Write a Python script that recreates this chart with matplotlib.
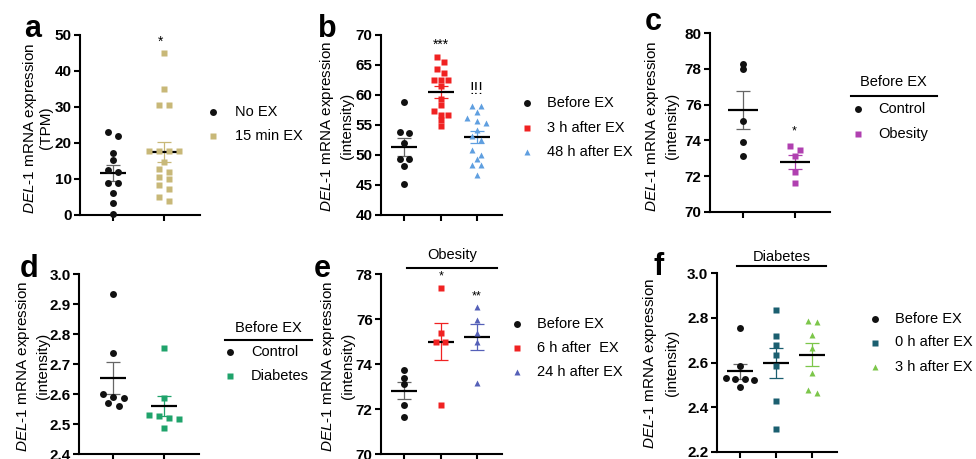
import matplotlib.pyplot as plt
import numpy as np
from matplotlib.lines import Line2D

plt.rcParams['font.family'] = ['Liberation Sans', 'DejaVu Sans']
plt.rcParams['mathtext.fontset'] = 'custom'
plt.rcParams['mathtext.rm'] = 'Liberation Sans'
plt.rcParams['mathtext.it'] = 'Liberation Sans:italic'

W, H = 976, 459

# ---- data ----
a_labels = ['No EX', '15 min EX']
a_no_ex = [23.0, 22.0, 17.1, 15.3, 12.5, 12.0, 8.8, 8.8, 6.2, 3.4, 0.2]
a_15min = [44.9, 34.9, 30.6, 30.6, 17.8, 17.8, 17.8, 17.8, 14.6, 12.8, 12.0,
           10.5, 10.0, 8.3, 7.3, 5.0, 4.0]

b_labels = ['Before EX', '3 h after EX', '48 h after EX']
b_before = [58.8, 53.6, 53.9, 52.0, 49.3, 49.3, 48.1, 45.1]
b_3h = [66.3, 65.5, 64.3, 63.6, 62.5, 62.5, 62.5, 61.5, 59.3, 58.3, 57.3,
        56.7, 56.7, 55.8, 54.8]
b_48h = [58.1, 58.2, 57.2, 56.1, 55.3, 55.6, 54.2, 53.2, 52.5, 50.8, 49.4,
         50.0, 48.4, 48.4, 46.7]

c_labels = ['Control', 'Obesity']
c_control = [78.0, 78.3, 75.1, 73.9, 73.1]
c_obesity = [73.7, 73.45, 73.1, 72.2, 71.6]

d_labels = ['Control', 'Diabetes']
d_control = [2.934, 2.738, 2.599, 2.586, 2.591, 2.569, 2.560]
d_diabetes = [2.753, 2.587, 2.527, 2.516, 2.521, 2.530, 2.486]

e_labels = ['Before EX', '6 h after  EX', '24 h after EX']
e_before = [73.74, 73.4, 73.1, 72.18, 71.66]
e_6h = [77.4, 75.4, 75.0, 75.0, 72.18]
e_24h = [76.56, 75.97, 75.4, 75.0, 73.17]

f_labels = ['Before EX', '0 h after EX', '3 h after EX']
f_before = [2.755, 2.585, 2.53, 2.525, 2.525, 2.52, 2.488]
f_0h = [2.837, 2.718, 2.678, 2.633, 2.585, 2.428, 2.30]
f_3h = [2.785, 2.782, 2.725, 2.666, 2.551, 2.461, 2.476]

fig = plt.figure(figsize=(W / 100, H / 100), dpi=100)


def fy(y):
    return 1 - y / H


def add_panel(left, top, right, bottom, first_px, last_px, n, ylim, yticks, fmt):
    ax = fig.add_axes([left / W, 1 - bottom / H, (right - left) / W, (bottom - top) / H])
    step = (last_px - first_px) / (n - 1)
    ax.set_xlim((left - first_px) / step, (right - first_px) / step)
    ax.set_ylim(*ylim)
    ax.set_xticks(range(n))
    ax.set_xticklabels([])
    ax.set_yticks(yticks)
    ax.set_yticklabels([fmt.format(t) for t in yticks], fontweight='bold', fontsize=11)
    for s in ['top', 'right']:
        ax.spines[s].set_visible(False)
    for s in ['left', 'bottom']:
        ax.spines[s].set_linewidth(1.5)
    ax.tick_params(width=1.5, length=4, pad=2)
    ax.patch.set_alpha(0)
    px_y = (bottom - top) / (ylim[1] - ylim[0])
    return ax, step, px_y


def swarm(vals, center, px_y, dx, thr=5.0):
    vals = np.asarray(vals)
    order = np.argsort(-vals, kind='stable')
    rows = []
    for i in order:
        if rows and (vals[rows[-1][0]] - vals[i]) * px_y < thr:
            rows[-1].append(i)
        else:
            rows.append([i])
    xs = np.zeros(len(vals))
    for row in rows:
        n = len(row)
        for k, i in enumerate(row):
            xs[i] = center + (k - (n - 1) / 2) * dx
    return xs


def draw_group(panel, k, vals, color, marker, ms, err_color, step=9.5, mean_w=13, cap_w=7):
    ax, px_x, px_y = panel
    vals = np.asarray(vals)
    xs = swarm(vals, k, px_y, step / px_x)
    m = vals.mean()
    se = vals.std(ddof=1) / np.sqrt(len(vals))
    ax.plot([k - mean_w / px_x, k + mean_w / px_x], [m, m], color='black', lw=1.6,
            zorder=2, solid_capstyle='butt')
    ax.errorbar(k, m, yerr=se, color=err_color, lw=0.9, capsize=cap_w * 0.72,
                capthick=0.9, zorder=1)
    ax.plot(xs, vals, linestyle='none', marker=marker, color=color, ms=ms,
            mec='none', zorder=3, clip_on=False)


def ylabel(x1, x2, yc, second):
    fig.text(x1 / W, fy(yc), r'$\mathit{DEL}$-$\mathit{1}$ mRNA expression', rotation=90,
             ha='center', va='center', fontsize=11)
    fig.text(x2 / W, fy(yc), second, rotation=90, ha='center', va='center', fontsize=11)


def legend_rows(entries, xm, xt, ys):
    for (label, color, marker, ms), y in zip(entries, ys):
        fig.add_artist(Line2D([xm / W], [fy(y)], marker=marker, color=color, ms=ms,
                              mec='none', linestyle='none', transform=fig.transFigure))
        fig.text(xt / W, fy(y), label, fontsize=10.5, va='center', ha='left')


def hline(x0, x1, y):
    fig.add_artist(Line2D([x0 / W, x1 / W], [fy(y), fy(y)], color='black', lw=1.5,
                          transform=fig.transFigure))


def letter(x, y, s):
    fig.text(x / W, fy(y), s, fontsize=22, fontweight='bold', ha='left', va='baseline')


def note(x, y, s, size=9):
    fig.text(x / W, fy(y), s, fontsize=size, ha='center', va='center')


black = '#111111'
grey = '#666666'
tan = '#c8b878'
red = '#f02222'
lblue = '#5f9fe0'
magenta = '#b040b0'
green = '#1fa36b'
indigo = '#5560b8'
teal = '#1b5f70'
lgreen = '#7cc64a'

# ---- a ----
pa = add_panel(80, 35, 200, 215, 113, 164, 2, (0, 50), [0, 10, 20, 30, 40, 50], '{:.0f}')
draw_group(pa, 0, a_no_ex, black, 'o', 5, grey, step=10.5)
draw_group(pa, 1, a_15min, tan, 's', 4.6, tan, step=10)
ylabel(30, 46, 128, '(TPM)')
legend_rows([(a_labels[0], black, 'o', 5), (a_labels[1], tan, 's', 4.6)], 213, 235, [112, 136])
note(161, 42, '*', 10)
letter(24, 37, 'a')

# ---- b ----
pb = add_panel(381, 35, 502, 215, 404.3, 476.7, 3, (40, 70), [40, 45, 50, 55, 60, 65, 70], '{:.0f}')
draw_group(pb, 0, b_before, black, 'o', 5, grey)
draw_group(pb, 1, b_3h, red, 's', 4.6, red, step=7)
draw_group(pb, 2, b_48h, lblue, '^', 5, lblue)
ylabel(327, 347, 126, '(intensity)')
legend_rows([(b_labels[0], black, 'o', 5), (b_labels[1], red, 's', 4.6),
             (b_labels[2], lblue, '^', 5)], 527, 547, [103, 127.5, 152])
note(440.7, 45, '***', 10)
note(476.7, 90, '!!!', 12)
letter(318, 37, 'b')

# ---- c ----
pc = add_panel(710, 33.3, 830, 211.7, 743.3, 795, 2, (70, 80), [70, 72, 74, 76, 78, 80], '{:.0f}')
draw_group(pc, 0, c_control, black, 'o', 5, grey, step=10, mean_w=15)
draw_group(pc, 1, c_obesity, magenta, 's', 4.6, magenta, step=10, mean_w=15)
ylabel(652, 672, 126, '(intensity)')
fig.text(893 / W, fy(82), 'Before EX', fontsize=10.5, ha='center', va='center')
hline(851, 937, 96)
legend_rows([(c_labels[0], black, 'o', 5), (c_labels[1], magenta, 's', 4.6)], 858, 878, [109, 134])
note(794, 131, '*', 9)
letter(645, 30, 'c')

# ---- d ----
pd_ = add_panel(79, 274.3, 199, 454, 113.3, 164.3, 2, (2.4, 3.0),
                [2.4, 2.5, 2.6, 2.7, 2.8, 2.9, 3.0], '{:.1f}')
draw_group(pd_, 0, d_control, black, 'o', 5, grey, step=10.5)
draw_group(pd_, 1, d_diabetes, green, 's', 4.6, green, step=10)
ylabel(23, 43, 366, '(intensity)')
fig.text(268 / W, fy(328), 'Before EX', fontsize=10.5, ha='center', va='center')
hline(225, 312, 339.5)
legend_rows([(d_labels[0], black, 'o', 5), (d_labels[1], green, 's', 4.6)], 230, 251, [352, 376])
letter(20, 277, 'd')

# ---- e ----
pe = add_panel(381, 274.3, 502, 454, 404.3, 476.7, 3, (70, 78), [70, 72, 74, 76, 78], '{:.0f}')
draw_group(pe, 0, e_before, black, 'o', 5, grey)
draw_group(pe, 1, e_6h, red, 's', 4.6, red)
draw_group(pe, 2, e_24h, indigo, '^', 5, indigo)
ylabel(328, 348, 366, '(intensity)')
fig.text(452 / W, fy(255), 'Obesity', fontsize=10.5, ha='center', va='center')
hline(407, 497, 267.5)
legend_rows([(e_labels[0], black, 'o', 5), (e_labels[1], red, 's', 4.6),
             (e_labels[2], indigo, '^', 5)], 517, 537, [323.5, 347.5, 371.5])
note(440.7, 276, '*', 9)
note(476.7, 296, '**', 9)
letter(314, 277, 'e')

# ---- f ----
pf = add_panel(716.7, 273.3, 836.7, 451.7, 740, 812.3, 3, (2.2, 3.0),
               [2.2, 2.4, 2.6, 2.8, 3.0], '{:.1f}')
draw_group(pf, 0, f_before, black, 'o', 5, grey)
draw_group(pf, 1, f_0h, teal, 's', 4.6, teal)
draw_group(pf, 2, f_3h, lgreen, '^', 5, lgreen)
ylabel(650, 672, 363, '(intensity)')
fig.text(782 / W, fy(257), 'Diabetes', fontsize=10.5, ha='center', va='center')
hline(737, 826, 266)
legend_rows([(f_labels[0], black, 'o', 5), (f_labels[1], teal, 's', 4.6),
             (f_labels[2], lgreen, '^', 5)], 875, 895, [319, 342.5, 367])
letter(653, 275, 'f')

fig.savefig('out.png', dpi=100)
